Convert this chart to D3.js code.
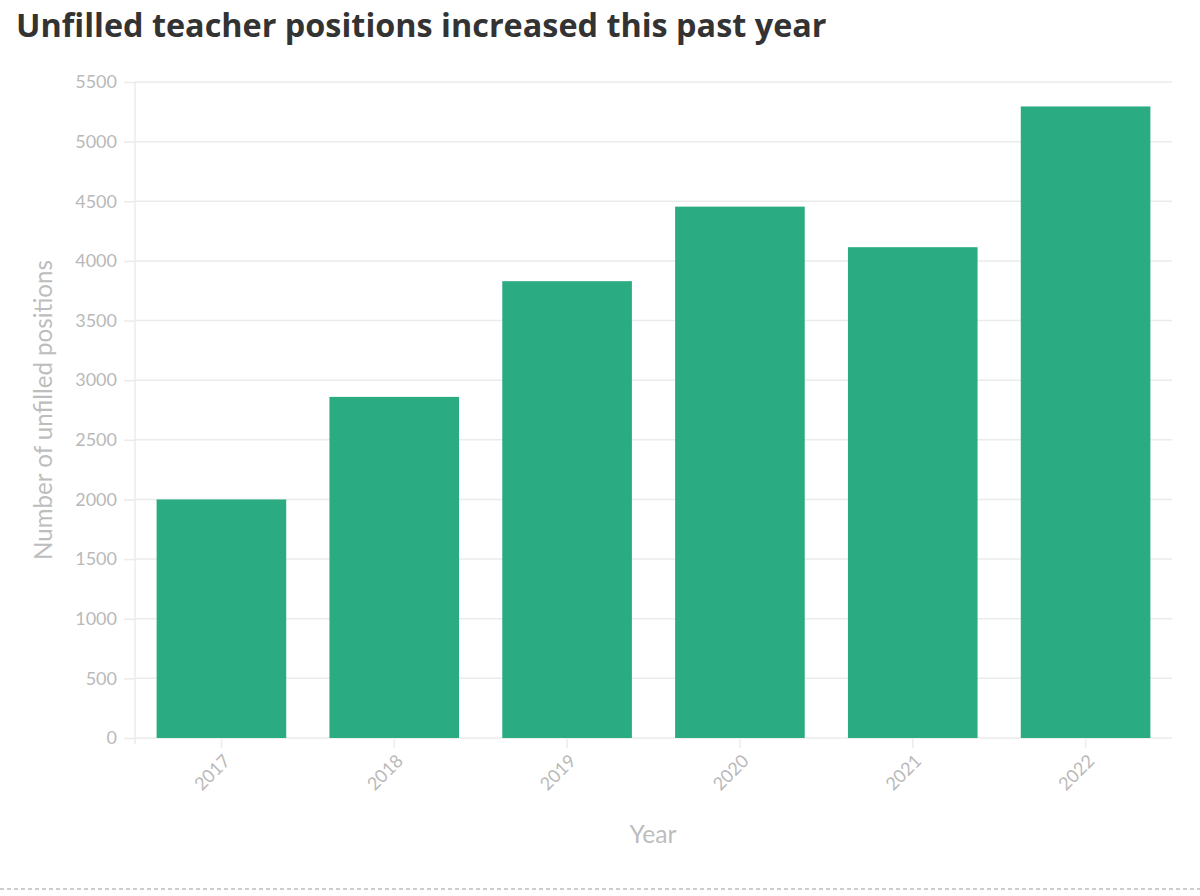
<!DOCTYPE html>
<html><head><meta charset="utf-8">
<script src="https://cdn.jsdelivr.net/npm/d3@7"></script>
<style>
html,body{margin:0;padding:0;background:#fff;}
svg{display:block;}
</style></head>
<body>
<svg id="chart" width="1200" height="896"></svg>
<script>
const years = ["2017","2018","2019","2020","2021","2022"];
const unfilled = [2000, 2860, 3830, 4455, 4115, 5295];
const yTicks = [0,500,1000,1500,2000,2500,3000,3500,4000,4500,5000,5500];
const titleText = "Unfilled teacher positions increased this past year";
const yLabel = "Number of unfilled positions";
const xLabel = "Year";

const svg = d3.select("#chart");
const font = "Lato, 'Source Sans Pro', sans-serif";
const titleFont = "'Open Sans', Lato, sans-serif";
const m = {left:135, right:1172, top:82, bottom:738};

function fit(sel, target){
  const fs = +sel.attr("font-size");
  const w = sel.node().getComputedTextLength();
  if (w > 0) sel.attr("font-size", (fs * target / w).toFixed(2));
  return sel;
}

const x = d3.scaleBand().domain(years).range([m.left, m.right]).paddingInner(0.25).paddingOuter(0.125);
const y = d3.scaleLinear().domain([0,5500]).range([m.bottom, m.top]);

// title
const t = svg.append("text").attr("x",16).attr("y",37)
  .attr("font-family",titleFont).attr("font-weight",700).attr("font-size",30)
  .attr("fill","#333").text(titleText);
fit(t, 811);

// grid
svg.append("g").selectAll("line").data(yTicks).join("line")
  .attr("x1",m.left).attr("x2",m.right)
  .attr("y1",d=>y(d)).attr("y2",d=>y(d))
  .attr("stroke","#ebebeb").attr("stroke-width",1.5);

// y axis
const yAxis = svg.append("g").attr("transform",`translate(${m.left},0)`)
  .call(d3.axisLeft(y).tickValues(yTicks).tickSize(11).tickPadding(7).tickFormat(d3.format("d")));
yAxis.select(".domain").attr("stroke","#ebebeb").attr("stroke-width",1.5).attr("d",`M0,${m.top}V${m.bottom+6}`);
yAxis.selectAll(".tick line").attr("stroke","#ebebeb").attr("stroke-width",1.5);
yAxis.selectAll(".tick text").attr("font-family",font).attr("font-size",18).attr("fill","#b9b9b9");

// bars
svg.append("g").selectAll("rect").data(years).join("rect")
  .attr("x",d=>x(d)).attr("width",x.bandwidth())
  .attr("y",(d,i)=>y(unfilled[i])).attr("height",(d,i)=>y(0)-y(unfilled[i]))
  .attr("fill","#2aab82");

// x axis
const xAxis = svg.append("g").attr("transform",`translate(0,${m.bottom})`)
  .call(d3.axisBottom(x).tickSize(10).tickPadding(6));
xAxis.select(".domain").remove();
xAxis.selectAll(".tick line").attr("stroke","#ededed").attr("stroke-width",1.5);
xAxis.selectAll(".tick text").attr("font-family",font).attr("font-size",18).attr("fill","#b9b9b9")
  .attr("text-anchor","end").attr("dy",0).attr("y",0)
  .attr("transform","translate(10,24) rotate(-45)");

// axis labels
const yl = svg.append("text").attr("transform",`translate(52,410) rotate(-90)`).attr("text-anchor","middle")
  .attr("font-family",font).attr("font-size",20).attr("fill","#bdbdbd").text(yLabel);
fit(yl, 300);
const xl = svg.append("text").attr("x",653).attr("y",843).attr("text-anchor","middle")
  .attr("font-family",font).attr("font-size",20).attr("fill","#bdbdbd").text(xLabel);
fit(xl, 47);

// dashed separator
svg.append("line").attr("x1",0).attr("x2",1200).attr("y1",889).attr("y2",889)
  .attr("stroke","#9a9a9a").attr("stroke-width",1).attr("stroke-dasharray","4,3");
</script>
</body></html>
